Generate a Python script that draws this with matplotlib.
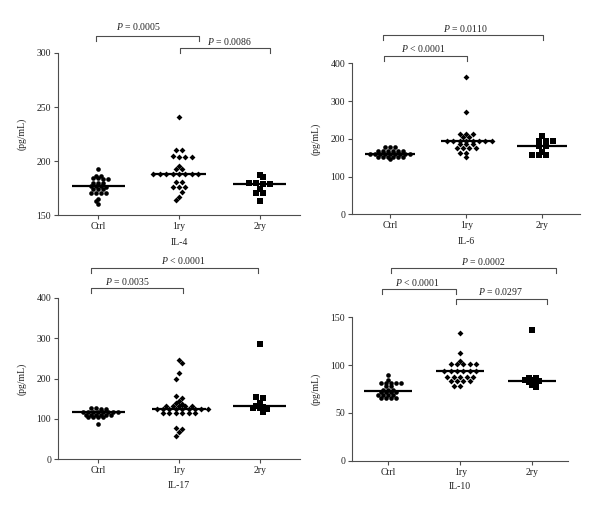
import numpy as np
import matplotlib
matplotlib.use("Agg")
import matplotlib.pyplot as plt
from matplotlib.transforms import blended_transform_factory

plt.rcParams['font.family'] = ['Liberation Serif', 'DejaVu Serif']
plt.rcParams['font.size'] = 7
plt.rcParams['mathtext.fontset'] = 'custom'
plt.rcParams['mathtext.rm'] = 'Liberation Serif'
plt.rcParams['mathtext.it'] = 'Liberation Serif:italic'

groups = ["Ctrl", "1ry", "2ry"]

# values (pg/mL), one list per group
il4_ctrl = [193, 186, 186, 184, 183, 183, 184, 180, 180, 180, 177, 177, 177, 176,
            174, 174, 174, 170, 170, 170, 170, 165, 163, 160]
il4_1ry = [241, 210, 210, 205, 204, 204, 204, 195, 193, 193, 188, 188, 188, 188, 188,
           188, 188, 188, 181, 181, 176, 176, 176, 171, 167, 164]
il4_2ry = [187, 185, 180, 180, 179, 179, 174, 170, 170, 163]

il6_ctrl = [177, 177, 177, 169, 169, 169, 169, 169, 169, 161, 161, 161, 161, 161, 161,
            161, 161, 161, 153, 153, 153, 153, 153, 153, 147]
il6_1ry = [365, 272, 213, 213, 213, 206, 206, 194, 194, 194, 194, 194, 194, 194, 194,
           187, 187, 187, 176, 176, 176, 176, 163, 163, 151]
il6_2ry = [208, 195, 194, 193, 181, 181, 164, 156, 156, 156]

il17_ctrl = [127, 127, 125, 125, 117, 117, 117, 117, 117, 117, 117, 117, 110, 110, 110,
             110, 110, 110, 104, 104, 104, 104, 87]
il17_1ry = [245, 239, 214, 200, 156, 153, 144, 140, 138, 131, 131, 131, 131, 131, 125,
            125, 125, 125, 125, 125, 125, 125, 125, 115, 115, 115, 115, 115, 115, 77, 74,
            67, 58]
il17_2ry = [286, 154, 152, 139, 132, 130, 128, 126, 125, 118]

il10_ctrl = [90, 84, 81, 81, 81, 81, 81, 78, 78, 74, 74, 74, 72, 72, 72, 72, 69, 69, 69,
             69, 66, 66, 66, 66]
il10_1ry = [134, 113, 104, 101, 101, 101, 101, 101, 94, 94, 94, 94, 94, 94, 88, 88, 88,
            88, 88, 83, 83, 83, 83, 78, 78]
il10_2ry = [137, 87, 86, 84, 84, 83, 82, 81, 79, 77]

panels = [
    dict(name="IL-4", data=[il4_ctrl, il4_1ry, il4_2ry], ylim=(150, 300),
         yticks=[150, 200, 250, 300],
         pos=[0.0967, 0.5833, 0.4033, 0.314], labelpad=5,
         brackets=[(-0.03, 1.25, 1.103, 0.50, 10, "$P$ = 0.0005"),
                   (1.01, 2.125, 1.029, 1.625, 7, "$P$ = 0.0086")]),
    dict(name="IL-6", data=[il6_ctrl, il6_1ry, il6_2ry], ylim=(0, 400),
         yticks=[0, 100, 200, 300, 400],
         pos=[0.587, 0.5847, 0.38, 0.2926], labelpad=5,
         brackets=[(-0.09, 2.01, 1.187, 0.99, 7, "$P$ = 0.0110"),
                   (-0.08, 1.016, 1.050, 0.44, 7, "$P$ < 0.0001")]),
    dict(name="IL-17", data=[il17_ctrl, il17_1ry, il17_2ry], ylim=(0, 400),
         yticks=[0, 100, 200, 300, 400],
         pos=[0.0967, 0.1099, 0.4033, 0.3126], labelpad=4,
         brackets=[(-0.09, 1.98, 1.188, 1.05, 7, "$P$ < 0.0001"),
                   (-0.09, 1.05, 1.060, 0.36, 7, "$P$ = 0.0035")]),
    dict(name="IL-10", data=[il10_ctrl, il10_1ry, il10_2ry], ylim=(0, 150),
         yticks=[0, 50, 100, 150],
         pos=[0.587, 0.1072, 0.36, 0.2779], labelpad=4,
         brackets=[(0.04, 2.33, 1.342, 1.32, 7, "$P$ = 0.0002"),
                   (-0.09, 0.94, 1.197, 0.40, 7, "$P$ < 0.0001"),
                   (0.94, 2.20, 1.128, 1.56, 7, "$P$ = 0.0297")]),
]

markers = ["o", "D", "s"]
msizes = [11, 9, 13]
spacing_px = [5.0, 6.4, 6.9]
row_px = 1.5

W, H = 600, 516


def swarm_offsets(values, px_per_y, px_per_x, dx_px, dy_px):
    # GraphPad-like rows: points with (nearly) equal y share a centred row;
    # a row that sits too close to the one above is shifted half a step
    vals = np.asarray(values, dtype=float)
    order = np.argsort(-vals, kind="stable")
    offs = np.zeros(len(vals))
    rows = []
    cur = []
    start = None
    for i in order:
        ypx = vals[i] * px_per_y
        if start is None or start - ypx > dy_px:
            if cur:
                rows.append(cur)
            cur = [i]
            start = ypx
        else:
            cur.append(i)
    if cur:
        rows.append(cur)
    prev = None
    flip = 1
    for r in rows:
        n = len(r)
        ymean = np.mean(vals[r]) * px_per_y
        shift = 0.0
        if prev is not None:
            pn, py, pshift = prev
            if py - ymean < dx_px and (pn % 2) == (n % 2) and pshift == 0:
                shift = flip * dx_px / 2.0
                flip = -flip
        for k, i in enumerate(r):
            offs[i] = ((k - (n - 1) / 2.0) * dx_px + shift) / px_per_x
        prev = (n, ymean, shift)
    return offs


fig = plt.figure(figsize=(W / 100, H / 100), dpi=100)
axis_col = "#4d4d4d"

for p in panels:
    ax = fig.add_axes(p["pos"])
    ymin, ymax = p["ylim"]
    ax.set_xlim(-0.5, 2.5)
    ax.set_ylim(ymin, ymax)
    px_per_y = p["pos"][3] * H / (ymax - ymin)
    px_per_x = p["pos"][2] * W / 3.0

    for g, vals in enumerate(p["data"]):
        offs = swarm_offsets(vals, px_per_y, px_per_x, spacing_px[g], row_px)
        ax.scatter(g + offs, vals, marker=markers[g], s=msizes[g], color="black",
                   linewidths=0, zorder=3, clip_on=False)
        med = np.median(vals)
        ax.hlines(med, g - 0.33, g + 0.33, color="black", lw=1.6, zorder=4)

    for s in ["top", "right"]:
        ax.spines[s].set_visible(False)
    for s in ["left", "bottom"]:
        ax.spines[s].set_color(axis_col)
        ax.spines[s].set_linewidth(0.8)
    ax.set_xticks(range(3))
    ax.set_xticklabels(groups)
    ax.set_yticks(p["yticks"])
    ax.tick_params(direction="out", length=3, width=0.8, color=axis_col, pad=2,
                   labelsize=7, labelcolor="#222222")
    ax.set_xlabel(p["name"], fontsize=7, labelpad=p["labelpad"], color="#222222")
    ax.set_ylabel("(pg/mL)", fontsize=7, labelpad=7, color="#222222")

    # significance brackets
    tr = blended_transform_factory(ax.transData, ax.transAxes)
    ax_h = p["pos"][3] * H
    leg = 5.0 / ax_h
    for x0, x1, ytop, xt, toff, label in p["brackets"]:
        ax.plot([x0, x0, x1, x1], [ytop - leg, ytop, ytop, ytop - leg], color=axis_col,
                lw=0.8, transform=tr, clip_on=False)
        ax.text(xt, ytop + toff / ax_h, label, transform=tr, ha="center", va="center",
                fontsize=7, color="#222222")

fig.savefig("out.png", dpi=100)
